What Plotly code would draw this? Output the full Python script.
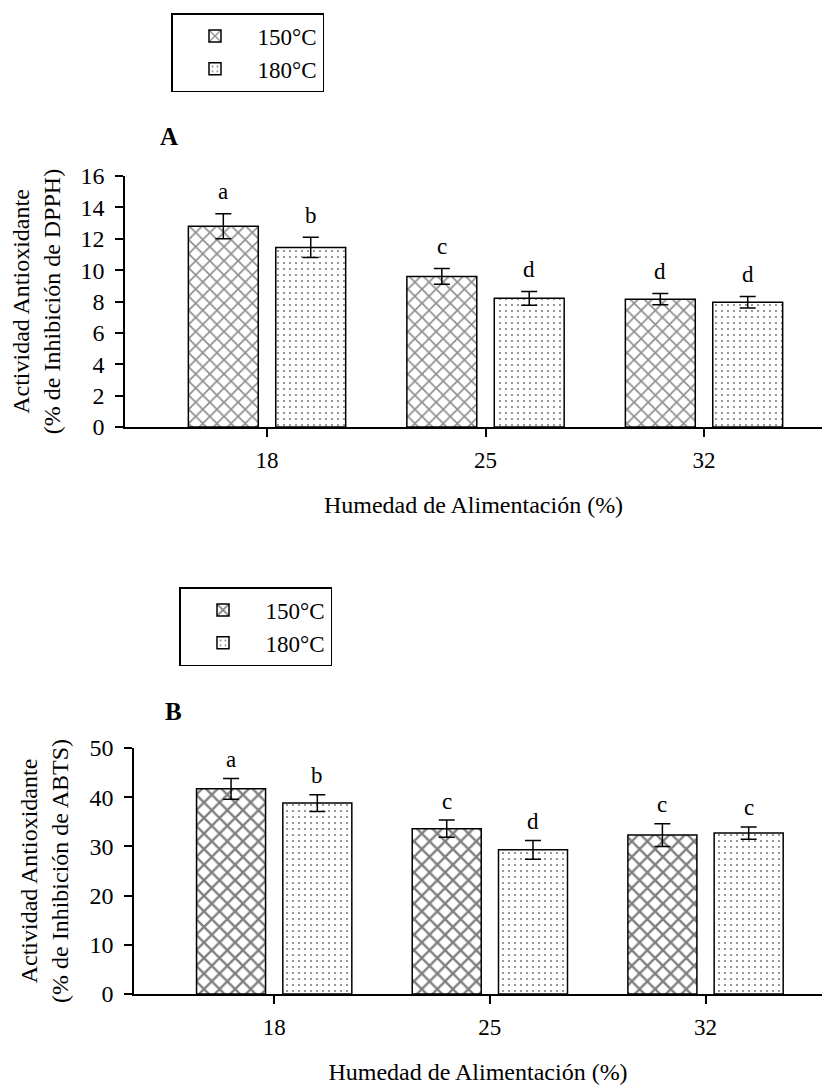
import plotly.graph_objects as go

# ---------------- data ----------------
humedad = ["18", "25", "32"]
temps = ["150°C", "180°C"]

dpph_150 = [12.8, 9.6, 8.15]
dpph_150_err = [0.8, 0.5, 0.36]
dpph_180 = [11.45, 8.2, 7.95]
dpph_180_err = [0.65, 0.44, 0.37]
dpph_letters_150 = ["a", "c", "d"]
dpph_letters_180 = ["b", "d", "d"]

abts_150 = [41.7, 33.6, 32.3]
abts_150_err = [2.1, 1.75, 2.3]
abts_180 = [38.8, 29.3, 32.7]
abts_180_err = [1.7, 1.9, 1.25]
abts_letters_150 = ["a", "c", "c"]
abts_letters_180 = ["b", "d", "c"]

# ---------------- style ----------------
W, H = 836, 1085
PAGE_OFF = 8  # default page body margin of the written html
FONT = "Liberation Serif, Times New Roman, serif"
pos = list(range(len(humedad)))
BW = 0.32
OFF = [-0.36, 0.04]


def px_x(p):
    return (p - PAGE_OFF) / W


def px_y(p):
    return 1 - (p - PAGE_OFF) / H


def pattern(kind, panel):
    if kind == 0:
        if panel == "A":
            return dict(shape="x", size=10, solidity=0.32, fgcolor="#222222", bgcolor="white")
        return dict(shape="x", size=11, solidity=0.38, fgcolor="black", bgcolor="white")
    return dict(shape=".", size=6, solidity=0.11, fgcolor="black", bgcolor="white")


fig = go.Figure()

panels = [
    ("A", "x", "y", "legend", [dpph_150, dpph_180], [dpph_150_err, dpph_180_err],
     [dpph_letters_150, dpph_letters_180], 22),
    ("B", "x2", "y2", "legend2", [abts_150, abts_180], [abts_150_err, abts_180_err],
     [abts_letters_150, abts_letters_180], 19),
]

for panel, xa, ya, leg, vals, errs, letters, shift in panels:
    for k in range(2):
        fig.add_trace(go.Bar(
            x=pos, y=vals[k], name=temps[k], xaxis=xa, yaxis=ya, legend=leg,
            width=BW, offset=OFF[k],
            marker=dict(color="white", pattern=pattern(k, panel),
                        line=dict(color="black", width=1.5)),
            error_y=dict(type="data", array=errs[k], visible=True,
                         color="black", thickness=1.5, width=8),
            hoverinfo="skip",
        ))
        for i in pos:
            fig.add_annotation(
                x=i + OFF[k] + BW / 2, y=vals[k][i] + errs[k][i],
                xref=xa, yref=ya, text=letters[k][i], showarrow=False,
                xanchor="center", yanchor="middle", yshift=shift,
                font=dict(family=FONT, size=23, color="black"),
            )

axis_common = dict(
    showline=True, linecolor="black", linewidth=1.5,
    ticks="outside", tickcolor="black", tickwidth=1.5, ticklen=8,
    showgrid=False, zeroline=False, automargin=False,
)

xt = dict(tickmode="array", tickvals=pos, ticktext=humedad, range=[-0.65, 2.54],
          ticklabelstandoff=4, tickfont=dict(family=FONT, size=23, color="black"),
          title=dict(text="Humedad de Alimentación (%)", standoff=24,
                     font=dict(family=FONT, size=24, color="black")))

yt_font = dict(family=FONT, size=24, color="black")

fig.update_layout(
    width=W, height=H,
    margin=dict(l=0, r=0, t=0, b=0, autoexpand=False),
    paper_bgcolor="white", plot_bgcolor="white",
    barmode="overlay",
    showlegend=True,
    xaxis=dict(**axis_common, **xt, domain=[px_x(125), px_x(822)], anchor="y"),
    yaxis=dict(**axis_common, range=[0, 16], dtick=2, domain=[px_y(427), px_y(176)],
               anchor="x", ticklabelstandoff=6, tickfont=yt_font,
               title=dict(text="Actividad Antioxidante<br>(% de Inhibición de DPPH)",
                          standoff=14, font=dict(family=FONT, size=24, color="black"))),
    xaxis2=dict(**axis_common, **xt, domain=[px_x(134), px_x(822)], anchor="y2"),
    yaxis2=dict(**axis_common, range=[0, 50], dtick=10, domain=[px_y(994), px_y(748)],
                anchor="x2", ticklabelstandoff=6, tickfont=yt_font,
                title=dict(text="Actividad Antioxidante<br>(% de Inhibición de ABTS)",
                           standoff=14, font=dict(family=FONT, size=24, color="black"))),
    legend=dict(x=px_x(171), y=px_y(13), xanchor="left", yanchor="top",
                bgcolor="white", bordercolor="black", borderwidth=1.5,
                font=dict(family=FONT, size=23, color="black"),
                itemwidth=75, tracegroupgap=0),
    legend2=dict(x=px_x(179), y=px_y(587), xanchor="left", yanchor="top",
                 bgcolor="white", bordercolor="black", borderwidth=1.5,
                 font=dict(family=FONT, size=23, color="black"),
                 itemwidth=75, tracegroupgap=0),
)

fig.add_annotation(x=px_x(169), y=px_y(136), xref="paper", yref="paper", text="<b>A</b>",
                   xanchor="center", yanchor="middle", showarrow=False,
                   font=dict(family=FONT, size=25, color="black"))
fig.add_annotation(x=px_x(173), y=px_y(711), xref="paper", yref="paper", text="<b>B</b>",
                   xanchor="center", yanchor="middle", showarrow=False,
                   font=dict(family=FONT, size=25, color="black"))

fig.write_html("out.html")
